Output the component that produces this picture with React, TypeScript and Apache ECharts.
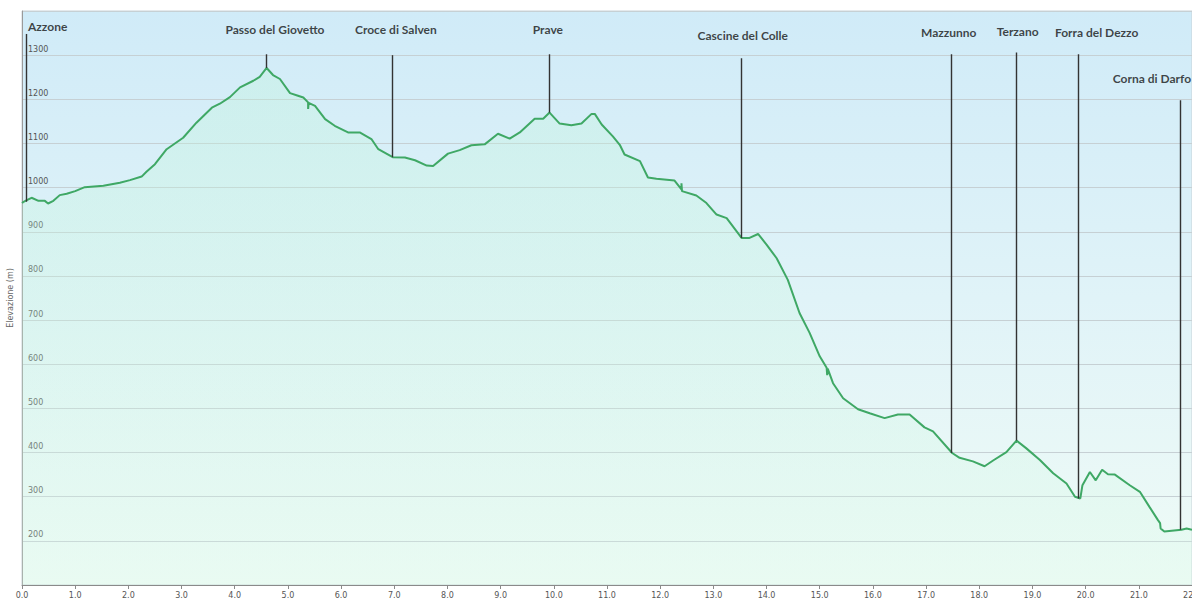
import React, { useEffect, useRef } from "react";
import * as echarts from "echarts";

// Elevation profile: distance (km) and elevation (m)
const distKm = [
  0.0, 0.02, 0.1, 0.18, 0.31, 0.43, 0.49, 0.59, 0.71, 0.84, 1.0, 1.18, 1.53, 1.84, 2.03, 2.25, 2.34, 2.5, 2.72,
  3.03, 3.28, 3.57, 3.72, 3.91, 4.1, 4.35, 4.47, 4.6, 4.72, 4.85, 5.04, 5.19, 5.29, 5.38, 5.38, 5.39, 5.51, 5.7,
  5.88, 6.13, 6.35, 6.57, 6.7, 6.97, 7.2, 7.39, 7.61, 7.73, 8.01, 8.23, 8.45, 8.7, 8.95, 9.17, 9.36, 9.64, 9.8,
  9.92, 10.11, 10.33, 10.52, 10.71, 10.77, 10.9, 11.11, 11.24, 11.33, 11.62, 11.77, 11.93, 12.27, 12.4, 12.4,
  12.41, 12.68, 12.87, 13.06, 13.25, 13.53, 13.68, 13.84, 14.0, 14.19, 14.4, 14.62, 14.81, 15.0, 15.13, 15.14,
  15.15, 15.25, 15.44, 15.72, 15.94, 16.22, 16.47, 16.69, 16.97, 17.13, 17.49, 17.63, 17.88, 18.1, 18.26, 18.51,
  18.7, 18.88, 19.14, 19.39, 19.64, 19.8, 19.9, 19.94, 20.08, 20.19, 20.31, 20.42, 20.55, 20.83, 21.02, 21.2,
  21.36, 21.4, 21.41, 21.48, 21.8, 21.9, 22.0,
];
const elevM = [
  965, 967, 972, 977, 970, 970, 964, 970, 983, 986, 992, 1001, 1004, 1011, 1017, 1025, 1036, 1053, 1087,
  1113, 1147, 1181, 1190, 1205, 1227, 1242, 1251, 1271, 1255, 1246, 1214, 1208, 1204, 1193, 1178, 1192, 1185, 1155,
  1140, 1125, 1125, 1110, 1087, 1069, 1068, 1062, 1050, 1049, 1077, 1085, 1096, 1098, 1122, 1111, 1125, 1156, 1156,
  1170, 1145, 1141, 1145, 1167, 1167, 1143, 1116, 1097, 1075, 1060, 1023, 1020, 1016, 996, 1010,
  992, 982, 965, 939, 931, 886, 886, 895, 871, 840, 791, 716, 671, 618, 592, 575,
  590, 557, 523, 498, 489, 478, 486, 486, 457, 448, 399, 388, 380, 369, 382, 401,
  427, 410, 383, 353, 330, 300, 296, 326, 356, 337, 361, 351, 350, 326, 311, 277,
  247, 240, 228, 221, 225, 228, 225,
];

// Place markers
const placeNames = [
  "Azzone", "Passo del Giovetto", "Croce di Salven", "Prave", "Cascine del Colle",
  "Mazzunno", "Terzano", "Forra del Dezzo", "Corna di Darfo",
];
const placeKm = [0.075, 4.6, 6.955, 9.906, 13.515, 17.48, 18.7, 19.87, 21.77];
const placeElev = [968, 1271, 1069, 1170, 886, 399, 427, 296, 225];
const stemTopElev = [1348, 1302, 1300, 1302, 1293, 1302, 1306, 1302, 1198];
const labelKm = [0.113, 4.756, 7.03, 9.887, 13.553, 17.425, 18.722, 20.207, 20.51];
const labelElev = [1366, 1357, 1357, 1357, 1345, 1352, 1354, 1352, 1248];
const labelAlign = ["left", "center", "center", "center", "center", "center", "center", "center", "left"];

const xTicks = { min: 0, max: 22, step: 1 };
const yTicks = { min: 100, max: 1400, step: 100 };

export default function App() {
  const ref = useRef<HTMLDivElement>(null);
  useEffect(() => {
    if (!ref.current) return;
    const chart = echarts.init(ref.current, undefined, { renderer: "svg" });
    const profile = distKm.map((d, i) => [d, elevM[i]]);
    const option: any = {
      animation: false,
      backgroundColor: "#ffffff",
      grid: {
        left: 22,
        right: 0,
        top: 11,
        bottom: 15,
        containLabel: false,
        outerBoundsMode: "none",
        show: true,
        borderColor: "#c9d3d8",
        borderWidth: 1,
        backgroundColor: new echarts.graphic.LinearGradient(0, 0, 0, 1, [
          { offset: 0, color: "#d0ebf8" },
          { offset: 0.5, color: "#e0f3f8" },
          { offset: 1, color: "#effbf6" },
        ]),
      },
      xAxis: {
        type: "value",
        min: xTicks.min,
        max: xTicks.max,
        interval: xTicks.step,
        axisLine: { show: true, lineStyle: { color: "#8a8a8a", width: 1 } },
        axisTick: { show: true, length: 4, lineStyle: { color: "#8a8a8a" } },
        splitLine: { show: false },
        axisLabel: {
          margin: 6,
          fontSize: 8,
          fontFamily: "DejaVu Sans",
          color: "#555",
          formatter: (v: number) => v.toFixed(1),
        },
      },
      yAxis: {
        type: "value",
        min: yTicks.min,
        max: yTicks.max,
        interval: yTicks.step,
        name: "Elevazione (m)",
        nameLocation: "middle",
        nameGap: 6,
        nameRotate: 90,
        nameTextStyle: { fontSize: 8, fontFamily: "DejaVu Sans", color: "#666" },
        axisLine: { show: true, lineStyle: { color: "#9a9a9a", width: 1 } },
        axisTick: { show: false },
        splitLine: { show: true, lineStyle: { color: "#c6d0d4", width: 1 } },
        axisLabel: {
          inside: true,
          margin: 6,
          fontSize: 8,
          fontFamily: "DejaVu Sans",
          color: "#555",
          verticalAlign: "bottom",
          padding: [0, 0, 2, 0],
          formatter: (v: number) => (v === yTicks.min || v === yTicks.max ? "" : String(v)),
        },
      },
      series: [
        {
          type: "line",
          data: profile,
          showSymbol: false,
          symbol: "none",
          lineStyle: { color: "#3fa865", width: 2 },
          areaStyle: {
            color: new echarts.graphic.LinearGradient(0, 0, 0, 1, [
              { offset: 0, color: "rgba(190, 245, 215, 0.45)" },
              { offset: 1, color: "rgba(215, 250, 230, 0.35)" },
            ]),
          },
          z: 3,
          markLine: {
            silent: true,
            symbol: "none",
            label: { show: false },
            lineStyle: { color: "#333", width: 1.4, type: "solid" },
            data: placeNames.map((n, i) => [
              { coord: [placeKm[i], stemTopElev[i]] },
              { coord: [placeKm[i], placeElev[i]] },
            ]),
          },
        },
        {
          type: "scatter",
          symbolSize: 0,
          silent: true,
          z: 5,
          data: placeNames.map((n, i) => ({
            value: [labelKm[i], labelElev[i]],
            name: n,
            label: { align: labelAlign[i] },
          })),
          label: {
            show: true,
            position: "inside",
            formatter: (p: any) => p.name,
            fontFamily: "Lato",
            fontWeight: "bold",
            fontSize: 12,
            color: "#151515",
            verticalAlign: "middle",
          },
        },
      ],
    };
    chart.setOption(option);
    return () => chart.dispose();
  }, []);
  return (
    <div
      ref={ref}
      style={{ position: "absolute", left: 0, top: 0, width: 1192, height: 600 }}
    />
  );
}
